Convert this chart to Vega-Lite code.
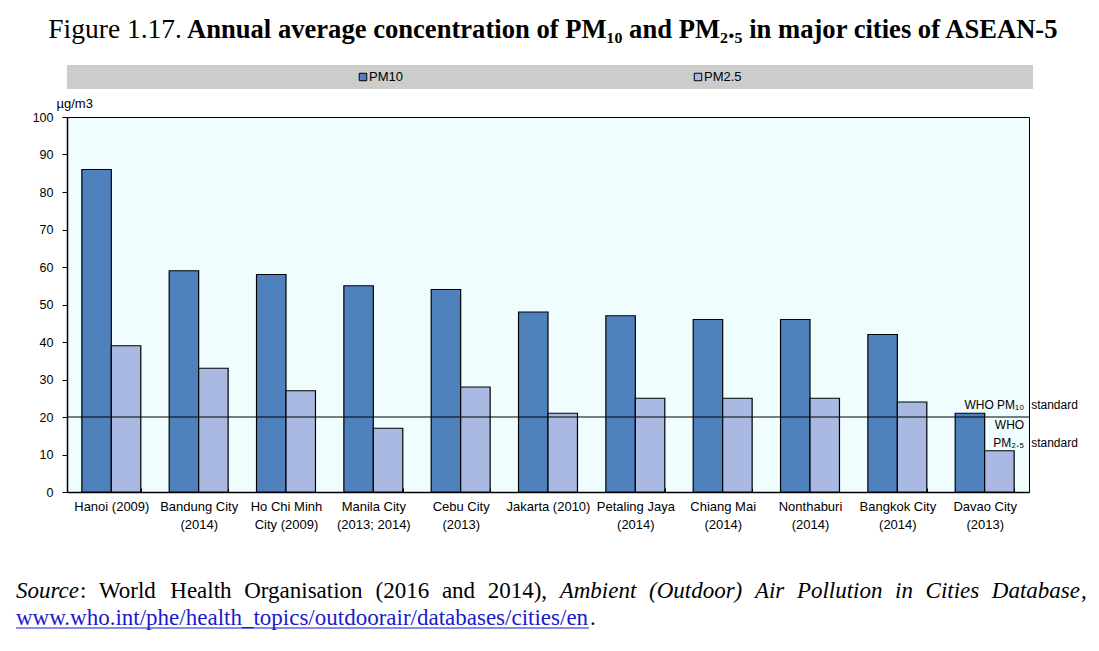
{
  "$schema": "https://vega.github.io/schema/vega-lite/v6.json",
  "padding": {"left": 15, "top": 0, "right": 0, "bottom": 0},
  "background": "white",
  "bounds": "flush",
  "spacing": 0,
  "config": {
    "view": {"stroke": null},
    "font": "Liberation Sans",
    "axis": {"labelFont": "Liberation Sans", "titleFont": "Liberation Sans"},
    "axisY": {"labelOverlap": false, "grid": false},
    "text": {"font": "Liberation Sans", "color": "black"}
  },
  "datasets": {
    "pm": [
      {"city": "Hanoi (2009)", "series": "PM10", "value": 86},
      {"city": "Hanoi (2009)", "series": "PM2.5", "value": 39},
      {"city": "Bandung City (2014)", "series": "PM10", "value": 59},
      {"city": "Bandung City (2014)", "series": "PM2.5", "value": 33},
      {"city": "Ho Chi Minh City (2009)", "series": "PM10", "value": 58},
      {"city": "Ho Chi Minh City (2009)", "series": "PM2.5", "value": 27},
      {"city": "Manila City (2013; 2014)", "series": "PM10", "value": 55},
      {"city": "Manila City (2013; 2014)", "series": "PM2.5", "value": 17},
      {"city": "Cebu City (2013)", "series": "PM10", "value": 54},
      {"city": "Cebu City (2013)", "series": "PM2.5", "value": 28},
      {"city": "Jakarta (2010)", "series": "PM10", "value": 48},
      {"city": "Jakarta (2010)", "series": "PM2.5", "value": 21},
      {"city": "Petaling Jaya (2014)", "series": "PM10", "value": 47},
      {"city": "Petaling Jaya (2014)", "series": "PM2.5", "value": 25},
      {"city": "Chiang Mai (2014)", "series": "PM10", "value": 46},
      {"city": "Chiang Mai (2014)", "series": "PM2.5", "value": 25},
      {"city": "Nonthaburi (2014)", "series": "PM10", "value": 46},
      {"city": "Nonthaburi (2014)", "series": "PM2.5", "value": 25},
      {"city": "Bangkok City (2014)", "series": "PM10", "value": 42},
      {"city": "Bangkok City (2014)", "series": "PM2.5", "value": 24},
      {"city": "Davao City (2013)", "series": "PM10", "value": 21},
      {"city": "Davao City (2013)", "series": "PM2.5", "value": 11}
    ],
    "series": [{"series": "PM10"}, {"series": "PM2.5"}],
    "one": [{}]
  },
  "resolve": {"scale": {"x": "independent", "y": "independent"}},
  "vconcat": [
    {
      "width": 964,
      "height": 65,
      "view": {"fill": "white", "stroke": null},
      "data": {"name": "one"},
      "layer": [
        {
          "mark": {"type": "text", "text": "Figure 1.17.", "font": "Liberation Serif", "fontSize": 27.5, "align": "right", "baseline": "alphabetic", "color": "black"},
          "encoding": {
            "x": {"datum": 115, "type": "quantitative", "scale": {"domain": [0, 964], "nice": false, "zero": false}, "axis": null},
            "y": {"datum": 38, "type": "quantitative", "scale": {"domain": [0, 65], "nice": false, "reverse": true}, "axis": null}
          }
        },
        {
          "mark": {"type": "text", "text": "Annual average concentration of PM₁₀ and PM₂.₅ in major cities of ASEAN-5", "font": "Liberation Serif", "fontSize": 26.6, "fontWeight": "bold", "align": "left", "baseline": "alphabetic", "color": "black"},
          "encoding": {
            "x": {"datum": 120, "type": "quantitative"},
            "y": {"datum": 38, "type": "quantitative"}
          }
        }
      ]
    },
    {
      "width": 966,
      "height": 24,
      "view": {"fill": "#cccccc", "stroke": null},
      "data": {"name": "series"},
      "layer": [
        {
          "mark": {"type": "point", "shape": "square", "filled": true, "size": 56, "stroke": "black", "strokeWidth": 1, "opacity": 1},
          "encoding": {
            "x": {"field": "series", "type": "nominal", "scale": {"type": "point", "domain": ["PM10", "PM2.5"], "range": [296, 631], "padding": 0}, "axis": null},
            "color": {"field": "series", "type": "nominal", "legend": null}
          }
        },
        {
          "mark": {"type": "text", "align": "left", "dx": 6, "fontSize": 13, "baseline": "middle", "color": "black"},
          "encoding": {
            "x": {"field": "series", "type": "nominal", "axis": null},
            "text": {"field": "series"}
          }
        }
      ]
    },
    {
      "width": 964,
      "height": 28,
      "view": {"fill": null, "stroke": null},
      "data": {"name": "one"},
      "mark": {"type": "text", "text": " "},
      "encoding": {}
    },
    {
      "width": 962,
      "height": 375,
      "view": {"fill": "#f0fdff", "stroke": "black", "strokeWidth": 1},
      "data": {"name": "pm"},
      "resolve": {"axis": {"y": "independent"}},
      "layer": [
        {
          "mark": {"type": "bar", "stroke": "black", "strokeWidth": 1.2},
          "encoding": {
            "x": {
              "field": "city", "type": "nominal", "sort": null, "title": null,
              "scale": {
                "domain": ["Hanoi (2009)", "Bandung City (2014)", "Ho Chi Minh City (2009)", "Manila City (2013; 2014)", "Cebu City (2013)", "Jakarta (2010)", "Petaling Jaya (2014)", "Chiang Mai (2014)", "Nonthaburi (2014)", "Bangkok City (2014)", "Davao City (2013)"],
                "paddingInner": 0.325, "paddingOuter": 0.17
              },
              "axis": {
                "labelAngle": 0, "labelFontSize": 13, "labelColor": "black", "labelLineHeight": 18, "labelPadding": 12, "labelLimit": 200,
                "tickBand": "extent", "tickSize": -4, "tickColor": "black", "domainColor": "black", "domainWidth": 1.5,
                "labelExpr": "indexof(['Hanoi (2009)', 'Jakarta (2010)'], datum.label) >= 0 ? datum.label : datum.label == 'Ho Chi Minh City (2009)' ? ['Ho Chi Minh', 'City (2009)'] : split(replace(datum.label, ' (', '|('), '|')"
              }
            },
            "xOffset": {"field": "series", "type": "nominal", "sort": ["PM10", "PM2.5"]},
            "y": {
              "field": "value", "type": "quantitative", "title": "µg/m3",
              "scale": {"domain": [0, 100], "nice": false},
              "axis": {
                "orient": "left",
                "values": [0, 10, 20, 30, 40, 50, 60, 70, 80, 90, 100], "tickCount": 20, "labelOverlap": false, "grid": false,
                "tickSize": 5, "tickColor": "black", "domainColor": "black", "domainWidth": 1.5,
                "labelFontSize": 12.5, "labelColor": "black", "labelPadding": 9,
                "title": "µg/m3", "titleAngle": 0, "titleX": -11, "titleY": -10, "titleAlign": "left", "titleBaseline": "alphabetic",
                "titleFontWeight": "normal", "titleFontSize": 13, "titleColor": "black"
              }
            },
            "color": {"field": "series", "type": "nominal", "scale": {"domain": ["PM10", "PM2.5"], "range": ["#4f81bd", "#a9b9e2"]}, "legend": null}
          }
        },
        {
          "data": {"name": "one"},
          "mark": {"type": "rule", "color": "black", "strokeWidth": 1.2, "x2Offset": 4},
          "encoding": {"y": {"datum": 20, "type": "quantitative", "axis": null}}
        },
        {
          "data": {"name": "one"},
          "mark": {"type": "text", "text": "WHO PM₁₀", "align": "right", "dx": 10, "fontSize": 12, "baseline": "middle", "color": "black"},
          "encoding": {"x": {"datum": "Davao City (2013)", "bandPosition": 1}, "y": {"datum": 23.2, "type": "quantitative", "axis": null}}
        },
        {
          "data": {"name": "one"},
          "mark": {"type": "text", "text": "standard", "align": "left", "dx": 17, "fontSize": 12, "baseline": "middle", "color": "black"},
          "encoding": {"x": {"datum": "Davao City (2013)", "bandPosition": 1}, "y": {"datum": 23.2, "type": "quantitative", "axis": null}}
        },
        {
          "data": {"name": "one"},
          "mark": {"type": "text", "text": "WHO", "align": "right", "dx": 10, "fontSize": 12, "baseline": "middle", "color": "black"},
          "encoding": {"x": {"datum": "Davao City (2013)", "bandPosition": 1}, "y": {"datum": 17.9, "type": "quantitative", "axis": null}}
        },
        {
          "data": {"name": "one"},
          "mark": {"type": "text", "text": "PM₂.₅", "align": "right", "dx": 10, "fontSize": 12, "baseline": "middle", "color": "black"},
          "encoding": {"x": {"datum": "Davao City (2013)", "bandPosition": 1}, "y": {"datum": 13.1, "type": "quantitative", "axis": null}}
        },
        {
          "data": {"name": "one"},
          "mark": {"type": "text", "text": "standard", "align": "left", "dx": 17, "fontSize": 12, "baseline": "middle", "color": "black"},
          "encoding": {"x": {"datum": "Davao City (2013)", "bandPosition": 1}, "y": {"datum": 13.1, "type": "quantitative", "axis": null}}
        }
      ]
    },
    {
      "width": 964,
      "height": 140,
      "view": {"fill": null, "stroke": null},
      "data": {"name": "one"},
      "layer": [
        {
          "mark": {"type": "text", "text": "Source", "font": "Liberation Serif", "fontSize": 23, "fontStyle": "italic", "align": "left", "baseline": "alphabetic", "color": "black"},
          "encoding": {
            "x": {"datum": -51, "type": "quantitative", "scale": {"domain": [0, 964], "nice": false, "zero": false}, "axis": null},
            "y": {"datum": 106, "type": "quantitative", "scale": {"domain": [0, 140], "nice": false, "reverse": true}, "axis": null}
          }
        },
        {"mark": {"type": "text", "text": ":", "font": "Liberation Serif", "fontSize": 23, "align": "left", "baseline": "alphabetic", "color": "black"},
         "encoding": {"x": {"datum": 12.9, "type": "quantitative"}, "y": {"datum": 106, "type": "quantitative"}}},
        {"mark": {"type": "text", "text": "World", "font": "Liberation Serif", "fontSize": 23, "align": "left", "baseline": "alphabetic", "color": "black"},
         "encoding": {"x": {"datum": 31.9, "type": "quantitative"}, "y": {"datum": 106, "type": "quantitative"}}},
        {"mark": {"type": "text", "text": "Health", "font": "Liberation Serif", "fontSize": 23, "align": "left", "baseline": "alphabetic", "color": "black"},
         "encoding": {"x": {"datum": 103.3, "type": "quantitative"}, "y": {"datum": 106, "type": "quantitative"}}},
        {"mark": {"type": "text", "text": "Organisation", "font": "Liberation Serif", "fontSize": 23, "align": "left", "baseline": "alphabetic", "color": "black"},
         "encoding": {"x": {"datum": 177.2, "type": "quantitative"}, "y": {"datum": 106, "type": "quantitative"}}},
        {"mark": {"type": "text", "text": "(2016", "font": "Liberation Serif", "fontSize": 23, "align": "left", "baseline": "alphabetic", "color": "black"},
         "encoding": {"x": {"datum": 308.6, "type": "quantitative"}, "y": {"datum": 106, "type": "quantitative"}}},
        {"mark": {"type": "text", "text": "and", "font": "Liberation Serif", "fontSize": 23, "align": "left", "baseline": "alphabetic", "color": "black"},
         "encoding": {"x": {"datum": 374.9, "type": "quantitative"}, "y": {"datum": 106, "type": "quantitative"}}},
        {"mark": {"type": "text", "text": "2014),", "font": "Liberation Serif", "fontSize": 23, "align": "left", "baseline": "alphabetic", "color": "black"},
         "encoding": {"x": {"datum": 420.7, "type": "quantitative"}, "y": {"datum": 106, "type": "quantitative"}}},
        {"mark": {"type": "text", "text": "Ambient", "font": "Liberation Serif", "fontSize": 23, "fontStyle": "italic", "align": "left", "baseline": "alphabetic", "color": "black"},
         "encoding": {"x": {"datum": 492.7, "type": "quantitative"}, "y": {"datum": 106, "type": "quantitative"}}},
        {"mark": {"type": "text", "text": "(Outdoor)", "font": "Liberation Serif", "fontSize": 23, "fontStyle": "italic", "align": "left", "baseline": "alphabetic", "color": "black"},
         "encoding": {"x": {"datum": 582, "type": "quantitative"}, "y": {"datum": 106, "type": "quantitative"}}},
        {"mark": {"type": "text", "text": "Air", "font": "Liberation Serif", "fontSize": 23, "fontStyle": "italic", "align": "left", "baseline": "alphabetic", "color": "black"},
         "encoding": {"x": {"datum": 687.9, "type": "quantitative"}, "y": {"datum": 106, "type": "quantitative"}}},
        {"mark": {"type": "text", "text": "Pollution", "font": "Liberation Serif", "fontSize": 23, "fontStyle": "italic", "align": "left", "baseline": "alphabetic", "color": "black"},
         "encoding": {"x": {"datum": 729.9, "type": "quantitative"}, "y": {"datum": 106, "type": "quantitative"}}},
        {"mark": {"type": "text", "text": "in", "font": "Liberation Serif", "fontSize": 23, "fontStyle": "italic", "align": "left", "baseline": "alphabetic", "color": "black"},
         "encoding": {"x": {"datum": 828.1, "type": "quantitative"}, "y": {"datum": 106, "type": "quantitative"}}},
        {"mark": {"type": "text", "text": "Cities", "font": "Liberation Serif", "fontSize": 23, "fontStyle": "italic", "align": "left", "baseline": "alphabetic", "color": "black"},
         "encoding": {"x": {"datum": 858.6, "type": "quantitative"}, "y": {"datum": 106, "type": "quantitative"}}},
        {"mark": {"type": "text", "text": "Database", "font": "Liberation Serif", "fontSize": 23, "fontStyle": "italic", "align": "right", "baseline": "alphabetic", "color": "black"},
         "encoding": {"x": {"datum": 1013, "type": "quantitative"}, "y": {"datum": 106, "type": "quantitative"}}},
        {"mark": {"type": "text", "text": ",", "font": "Liberation Serif", "fontSize": 23, "align": "left", "baseline": "alphabetic", "color": "black"},
         "encoding": {"x": {"datum": 1014, "type": "quantitative"}, "y": {"datum": 106, "type": "quantitative"}}},
        {
          "mark": {"type": "text", "text": "www.who.int/phe/health_topics/outdoorair/databases/cities/en", "font": "Liberation Serif", "fontSize": 23, "align": "left", "baseline": "alphabetic", "color": "#1a1acc"},
          "encoding": {"x": {"datum": -51, "type": "quantitative"}, "y": {"datum": 133, "type": "quantitative"}}
        },
        {
          "mark": {"type": "rule", "color": "#1a1acc", "strokeWidth": 1},
          "encoding": {"x": {"datum": -51, "type": "quantitative"}, "x2": {"datum": 522}, "y": {"datum": 136, "type": "quantitative"}}
        },
        {
          "mark": {"type": "text", "text": ".", "font": "Liberation Serif", "fontSize": 23, "align": "left", "baseline": "alphabetic", "color": "black"},
          "encoding": {"x": {"datum": 523, "type": "quantitative"}, "y": {"datum": 133, "type": "quantitative"}}
        }
      ]
    }
  ]
}
